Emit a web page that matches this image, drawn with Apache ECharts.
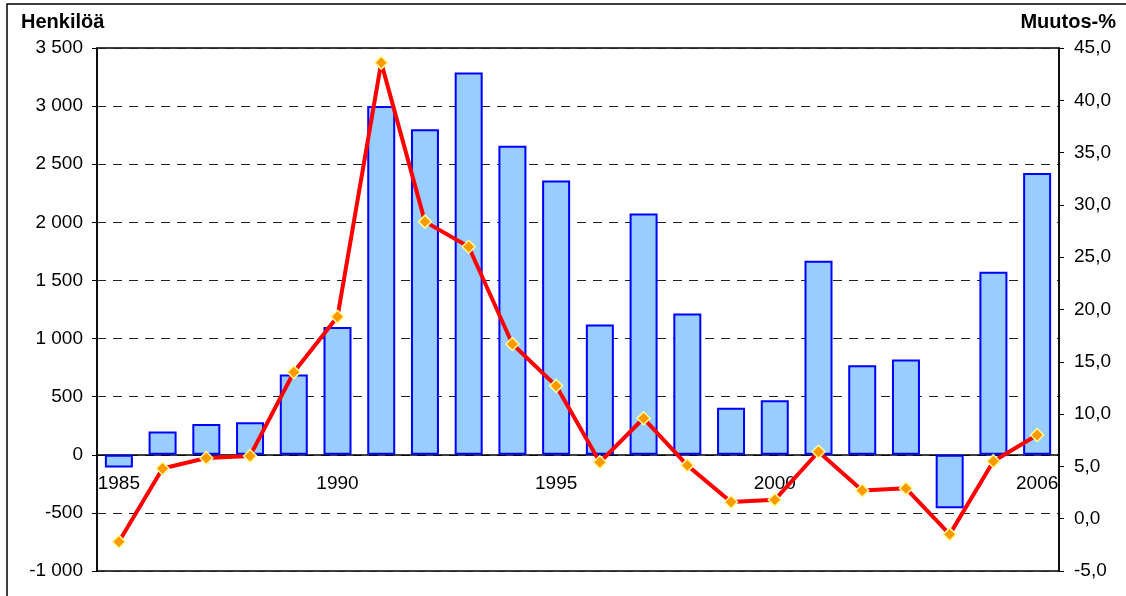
<!DOCTYPE html>
<html>
<head>
<meta charset="utf-8">
<script src="https://cdn.jsdelivr.net/npm/echarts@6/dist/echarts.min.js"></script>
<style>
  html, body { margin: 0; padding: 0; background: #fff; }
  #chart { width: 1126px; height: 596px; }
</style>
</head>
<body>
<div id="chart"></div>
<script>
// vuodet (kategoriat)
const years = ['1985', '1986', '1987', '1988', '1989', '1990', '1991', '1992', '1993', '1994', '1995',
  '1996', '1997', '1998', '1999', '2000', '2001', '2002', '2003', '2004', '2005', '2006']
// muutos henkilöinä (pylväät, vasen akseli)
const henkiloa = [-110, 200, 265, 280, 690, 1100, 3000, 2800, 3290, 2660, 2360,
  1120, 2075, 1215, 405, 470, 1670, 770, 820, -460, 1575, 2425]
// muutos prosentteina (viiva, oikea akseli)
const muutosPros = [-2.2, 4.8, 5.8, 6.0, 14.0, 19.3, 43.6, 28.4, 26.0, 16.7, 12.7,
  5.4, 9.6, 5.1, 1.6, 1.8, 6.4, 2.7, 2.9, -1.5, 5.5, 8.0]
// näytettävät vuosiotsikot
const shownYears = ['1985', '1990', '1995', '2000', '2006']

const font = 'Arial, "Liberation Sans", sans-serif'

// piirtoalue
const gridTop = 48
const gridBottom = 25
const leftMin = -1000
const leftMax = 3500
const plotH = 596 - gridTop - gridBottom
// x-akseli nollakohtaan (onZero ei toimi kahden y-akselin kanssa)
const zeroOffset = -plotH * (0 - leftMin) / (leftMax - leftMin)

let chart = echarts.init(document.getElementById('chart'))

let option = {
  animation: false,
  graphic: [
    {
      type: 'rect',
      shape: { x: 7, y: 4, width: 1140, height: 620 },
      style: { fill: 'none', stroke: '#000', lineWidth: 1.5 },
      silent: true,
    },
    {
      type: 'text',
      left: 21,
      top: 12,
      style: { text: 'Henkilöä', font: 'bold 20px ' + font, fill: '#000' },
    },
    {
      type: 'text',
      right: 10,
      top: 12,
      style: { text: 'Muutos-%', font: 'bold 20px ' + font, fill: '#000' },
    },
  ],
  grid: {
    left: 97,
    right: 67,
    top: gridTop,
    bottom: gridBottom,
    show: true,
    borderColor: '#000',
    borderWidth: 1.5,
    containLabel: false,
    outerBoundsMode: 'none',
  },
  xAxis: {
    type: 'category',
    data: years,
    position: 'bottom',
    offset: zeroOffset,
    axisLine: { onZero: false, lineStyle: { color: '#000', width: 1.5 } },
    axisTick: { interval: 0, length: 5, lineStyle: { color: '#000' } },
    axisLabel: {
      interval: (i, v) => shownYears.includes(v),
      margin: 19,
      fontSize: 19,
      fontFamily: font,
      color: '#000',
    },
  },
  yAxis: [
    {
      type: 'value',
      min: leftMin,
      max: leftMax,
      interval: 500,
      axisLine: { show: true, lineStyle: { color: '#000', width: 1.5 } },
      axisTick: { show: true, length: 5, lineStyle: { color: '#000' } },
      axisLabel: {
        fontSize: 19,
        fontFamily: font,
        color: '#000',
        margin: 14,
        formatter: v => {
          let s = String(Math.abs(v)).replace(/\B(?=(\d{3})+(?!\d))/g, ' ')
          return (v < 0 ? '-' : '') + s
        },
      },
      splitLine: { show: true, lineStyle: { color: '#222', type: [9, 7], width: 1 } },
    },
    {
      type: 'value',
      min: -5,
      max: 45,
      interval: 5,
      position: 'right',
      axisLine: { show: true, lineStyle: { color: '#000', width: 1.5 } },
      axisTick: { show: true, length: 5, lineStyle: { color: '#000' } },
      axisLabel: {
        fontSize: 19,
        fontFamily: font,
        color: '#000',
        margin: 15,
        formatter: v => v.toFixed(1).replace('.', ','),
      },
      splitLine: { show: false },
    },
  ],
  series: [
    {
      name: 'Henkilöä',
      type: 'bar',
      yAxisIndex: 0,
      barWidth: 28,
      itemStyle: { color: '#99CCFF', borderColor: '#0000FF', borderWidth: 2 },
      data: henkiloa,
    },
    {
      name: 'Muutos-%',
      type: 'line',
      yAxisIndex: 1,
      symbol: 'diamond',
      symbolSize: 13,
      lineStyle: { color: '#FF0000', width: 4 },
      itemStyle: { color: '#FF9900', borderColor: '#FFFF99', borderWidth: 1.5 },
      z: 5,
      data: muutosPros,
    },
  ],
}

chart.setOption(option)
</script>
</body>
</html>
